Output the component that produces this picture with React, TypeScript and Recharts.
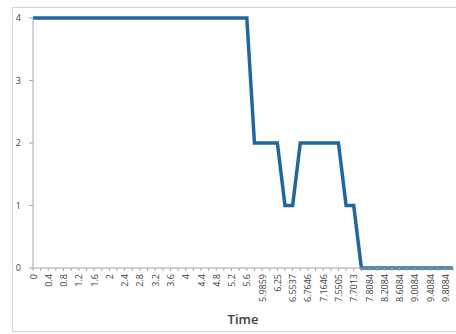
import React from "react";
import { LineChart, Line, XAxis, YAxis } from "recharts";

// category axis: one entry per sample, labels shown on every other one
const timeLabels = [
  "0", "0.2", "0.4", "0.6", "0.8", "1", "1.2", "1.4", "1.6", "1.8",
  "2", "2.2", "2.4", "2.6", "2.8", "3", "3.2", "3.4", "3.6", "3.8",
  "4", "4.2", "4.4", "4.6", "4.8", "5", "5.2", "5.4", "5.6", "5.7859",
  "5.9859", "6.05", "6.25", "6.3537", "6.5537", "6.5646", "6.7646", "6.9646", "7.1646", "7.3505",
  "7.5505", "7.6013", "7.7013", "7.7548", "7.8084", "8.0084", "8.2084", "8.4084", "8.6084", "8.8084",
  "9.0084", "9.2084", "9.4084", "9.6084", "9.8084", "10.0084",
];

const stateValues = [
  4, 4, 4, 4, 4, 4, 4, 4, 4, 4,
  4, 4, 4, 4, 4, 4, 4, 4, 4, 4,
  4, 4, 4, 4, 4, 4, 4, 4, 4, 2,
  2, 2, 2, 1, 1, 2, 2, 2, 2, 2,
  2, 1, 1, 0, 0, 0, 0, 0, 0, 0,
  0, 0, 0, 0, 0, 0,
];

const yTicks = [0, 1, 2, 3, 4];

const data = timeLabels.map((t, i) => ({ time: t, value: stateValues[i] }));

const FONT = "'Open Sans', 'Liberation Sans', sans-serif";

function TimeTick(props: any) {
  const { x, y, payload, index } = props;
  if (index % 2 !== 0) return null;
  return (
    <text
      x={0}
      y={0}
      transform={`translate(${x},${y + 1}) rotate(-90)`}
      textAnchor="end"
      dominantBaseline="central"
      fontSize={9}
      fill="#404040"
      fontFamily={FONT}
    >
      {payload.value}
    </text>
  );
}

export default function App() {
  return (
    <div
      style={{
        position: "fixed",
        left: 0,
        top: 0,
        width: 456,
        height: 334,
        background: "#fff",
        overflow: "hidden",
      }}
    >
      <div
        style={{
          position: "absolute",
          left: 12,
          top: 7,
          width: 460,
          height: 323,
          border: "1px solid #d4d4d4",
        }}
      />
      <div style={{ position: "absolute", left: 0, top: 0 }}>
        <LineChart
          width={456}
          height={334}
          data={data}
          margin={{ top: 18, right: 3, bottom: 0, left: 0 }}
        >
          <XAxis
            dataKey="time"
            interval={0}
            height={66}
            tick={<TimeTick />}
            tickSize={3}
            stroke="#a6a6a6"
            tickLine={{ stroke: "#a6a6a6" }}
            label={{
              value: "Time",
              position: "insideBottom",
              offset: 10,
              fontSize: 13,
              fontWeight: 600,
              fill: "#404040",
              fontFamily: FONT,
            }}
          />
          <YAxis
            domain={[0, 4]}
            ticks={yTicks}
            width={33}
            tickSize={4}
            tickMargin={8}
            stroke="#a6a6a6"
            tick={{ fontSize: 9, fill: "#404040", fontFamily: FONT }}
          />
          <Line
            type="linear"
            dataKey="value"
            stroke="#21679f"
            strokeWidth={3.5}
            dot={false}
            isAnimationActive={false}
          />
        </LineChart>
      </div>
    </div>
  );
}
